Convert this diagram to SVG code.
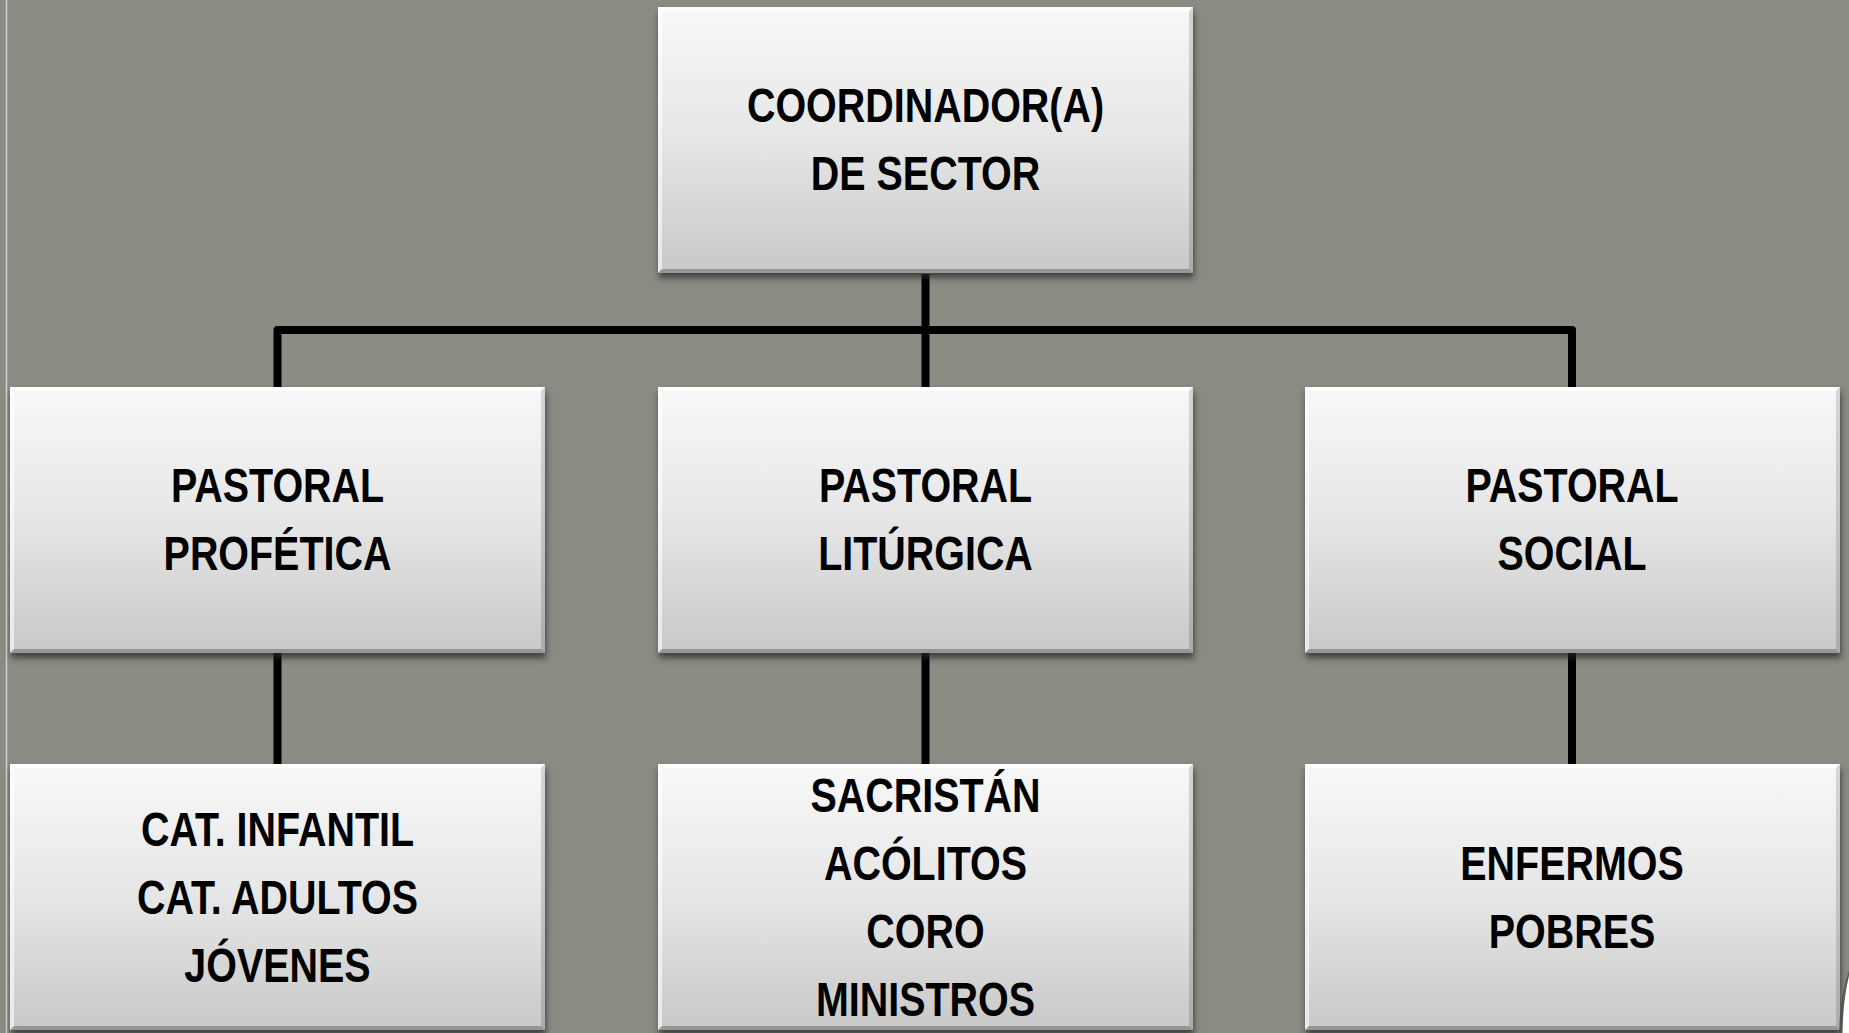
<svg xmlns="http://www.w3.org/2000/svg" xmlns:xlink="http://www.w3.org/1999/xlink" width="1849" height="1033" viewBox="0 0 1849 1033">
<style>
.lbl{font-family:"Liberation Sans","Arial",sans-serif;font-weight:bold;font-size:49px;fill:#000;text-anchor:middle}
.conn{stroke:#000;stroke-width:8;fill:none;stroke-linejoin:round}
</style>
<defs>
<linearGradient id="gBox" x1="0" y1="0" x2="0" y2="1">
<stop offset="0" stop-color="#f8f8f8"/>
<stop offset="0.5" stop-color="#e6e6e6"/>
<stop offset="1" stop-color="#c8c8c8"/>
</linearGradient>
<filter id="shadow" x="-5%" y="-5%" width="110%" height="115%">
<feDropShadow dx="1" dy="5" stdDeviation="3" flood-color="#2a2a26" flood-opacity="0.75"/>
</filter>
<g id="box">
<rect x="0" y="0" width="535" height="266" fill="url(#gBox)" filter="url(#shadow)"/>
<polygon points="0,0 535,0 531,4 4,4" fill="#ffffff" opacity="0.85"/>
<polygon points="0,0 4,4 4,262 0,266" fill="#ffffff" opacity="0.6"/>
<polygon points="535,0 535,266 531,262 531,4" fill="#000000" opacity="0.14"/>
<polygon points="0,266 535,266 531,262 4,262" fill="#000000" opacity="0.25"/>
</g>
</defs>
<rect x="0" y="0" width="1849" height="1033" fill="#8a8b82"/>
<line x1="6.5" y1="0" x2="6.5" y2="1033" stroke="#d2d3cd" stroke-width="1.5"/>
<g id="connectors">
<line class="conn" x1="925.5" y1="274" x2="925.5" y2="387"/>
<path class="conn" d="M277.5,387 L277.5,330 L1572,330 L1572,387"/>
<line class="conn" x1="277.5" y1="653" x2="277.5" y2="766"/>
<line class="conn" x1="925.5" y1="653" x2="925.5" y2="766"/>
<line class="conn" x1="1572" y1="653" x2="1572" y2="766"/>
</g>
<g id="coordinador">
<use xlink:href="#box" x="658" y="7"/>
<text class="lbl" transform="translate(925.5 122) scale(0.805 1)">COORDINADOR(A)</text>
<text class="lbl" transform="translate(925.5 190) scale(0.805 1)">DE SECTOR</text>
</g>
<g id="pastoral-profetica">
<use xlink:href="#box" x="10" y="387"/>
<text class="lbl" transform="translate(277.5 502) scale(0.805 1)">PASTORAL</text>
<text class="lbl" transform="translate(277.5 570) scale(0.805 1)">PROFÉTICA</text>
</g>
<g id="pastoral-liturgica">
<use xlink:href="#box" x="658" y="387"/>
<text class="lbl" transform="translate(925.5 502) scale(0.805 1)">PASTORAL</text>
<text class="lbl" transform="translate(925.5 570) scale(0.805 1)">LITÚRGICA</text>
</g>
<g id="pastoral-social">
<use xlink:href="#box" x="1305" y="387"/>
<text class="lbl" transform="translate(1572 502) scale(0.805 1)">PASTORAL</text>
<text class="lbl" transform="translate(1572 570) scale(0.805 1)">SOCIAL</text>
</g>
<g id="catequesis">
<use xlink:href="#box" x="10" y="764"/>
<text class="lbl" transform="translate(277.5 846) scale(0.805 1)">CAT. INFANTIL</text>
<text class="lbl" transform="translate(277.5 914) scale(0.805 1)">CAT. ADULTOS</text>
<text class="lbl" transform="translate(277.5 982) scale(0.805 1)">JÓVENES</text>
</g>
<g id="liturgia">
<use xlink:href="#box" x="658" y="764"/>
<text class="lbl" transform="translate(925.5 812) scale(0.805 1)">SACRISTÁN</text>
<text class="lbl" transform="translate(925.5 880) scale(0.805 1)">ACÓLITOS</text>
<text class="lbl" transform="translate(925.5 948) scale(0.805 1)">CORO</text>
<text class="lbl" transform="translate(925.5 1016) scale(0.805 1)">MINISTROS</text>
</g>
<g id="social">
<use xlink:href="#box" x="1305" y="764"/>
<text class="lbl" transform="translate(1572 880) scale(0.805 1)">ENFERMOS</text>
<text class="lbl" transform="translate(1572 948) scale(0.805 1)">POBRES</text>
</g>
<path d="M1849,970 Q1840,995 1839,1033 L1843,1033 Q1844,1000 1849,980 Z" fill="#4a4b45" opacity="0.7"/>
<path d="M1849,976 Q1843,1000 1842.5,1033 L1849,1033 Z" fill="#ffffff"/>
</svg>
